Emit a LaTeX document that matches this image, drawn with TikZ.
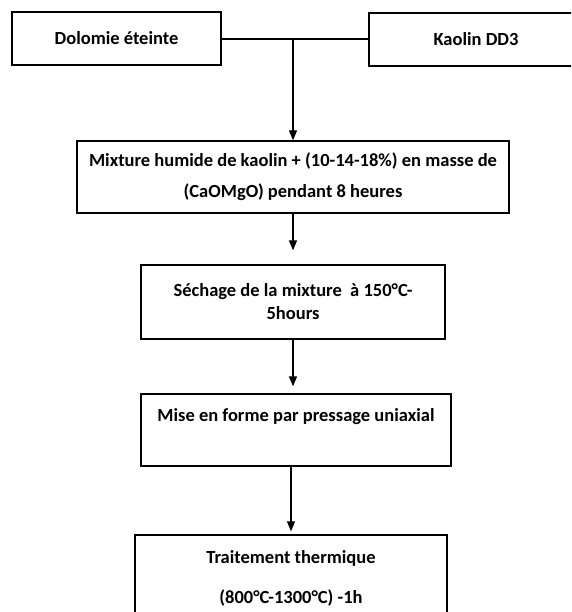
\documentclass[tikz,border=0pt]{standalone}
\usepackage{fontspec}
\setmainfont{Carlito}
\usetikzlibrary{arrows.meta}
\begin{document}
\begin{tikzpicture}[x=1pt,y=-1pt,
  stepbox/.style={draw=black,line width=1.3pt,rectangle,inner sep=0pt,align=center,
    font=\bfseries\fontsize{18.5}{23}\selectfont},
  conn/.style={line width=1.3pt,draw=black},
  arr/.style={conn,-{Triangle[width=8pt,length=10pt]}}]
\clip (0,0) rectangle (571,612);
\fill[white] (0,0) rectangle (571,612);
\node[stepbox,minimum width=209pt,minimum height=53pt] (b1) at (116.5,38.5) {Dolomie éteinte};
\node[stepbox,minimum width=214pt,minimum height=53pt] (b2) at (476,39.5) {Kaolin DD3};
\node[stepbox,minimum width=432pt,minimum height=72pt,
  font=\bfseries\fontsize{18.5}{31}\selectfont] (b3) at (293,177)
  {Mixture humide de kaolin + (10-14-18\%) en masse de\\(CaOMgO) pendant 8 heures};
\node[stepbox,minimum width=304pt,minimum height=74pt] (b4) at (293,302)
  {Séchage de la mixture~ à 150°C-\\5hours};
\node[stepbox,minimum width=310pt,minimum height=72pt,
  font=\bfseries\fontsize{18.5}{30}\selectfont] (b5) at (296,430)
  {Mise en forme par pressage uniaxial\\\mbox{}};
\node[stepbox,minimum width=312pt,minimum height=86pt,
  font=\bfseries\fontsize{18.5}{20}\selectfont] (b6) at (291,578)
  {Traitement thermique\\[20pt](800°C-1300°C) -1h};
\coordinate (j) at (293,39);
\draw[conn] (b1.east |- j) -- (b2.west |- j);
\draw[arr] (j) -- (j |- b3.north);
\draw[arr,shorten >=14pt] (b3.south) -- (b3.south |- b4.north);
\draw[arr,shorten >=7pt] (b4.south) -- (b4.south |- b5.north);
\draw[arr,shorten >=3pt] (b5.south -| b6.north) -- (b6.north);
\end{tikzpicture}
\end{document}
